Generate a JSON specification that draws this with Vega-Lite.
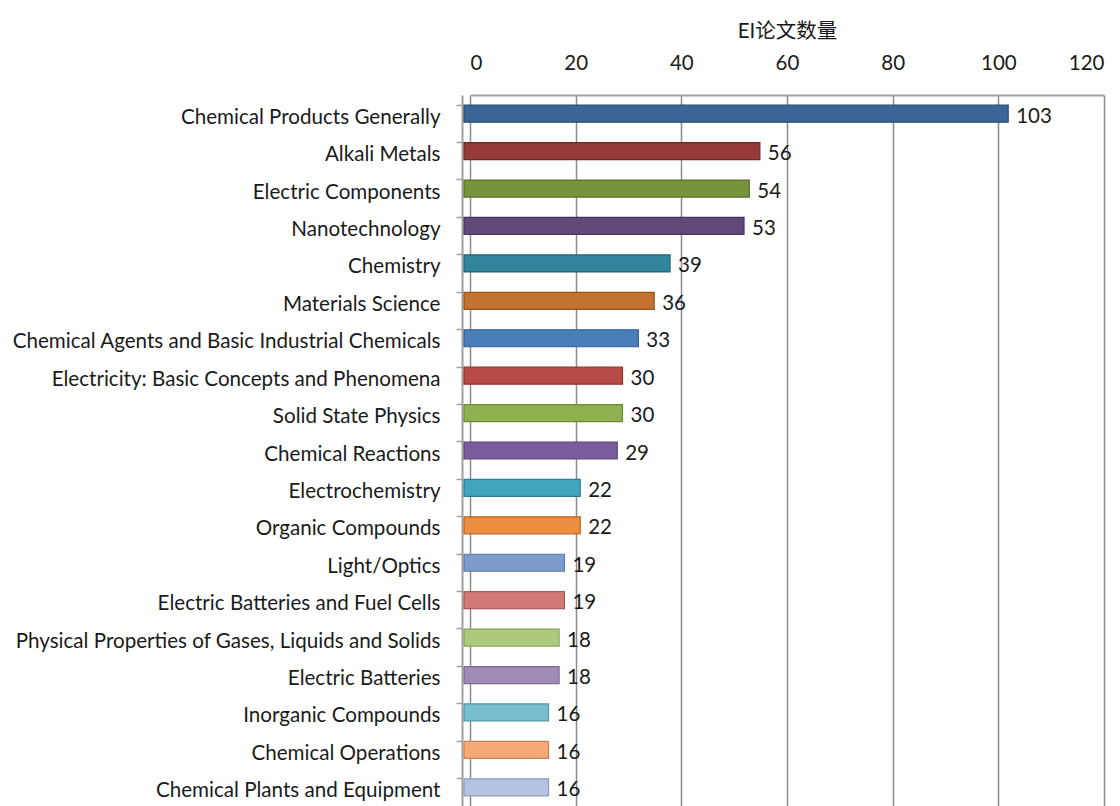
{
  "$schema": "https://vega.github.io/schema/vega-lite/v6.json",
  "width": 634,
  "height": 711,
  "autosize": {"type": "none"},
  "padding": {"left": 470, "top": 95, "right": 16, "bottom": 0},
  "background": "white",
  "config": {"view": {"stroke": null}, "font": "Lato"},
  "data": {"values": [
    {"cat": "Chemical Products Generally", "n": 103},
    {"cat": "Alkali Metals", "n": 56},
    {"cat": "Electric Components", "n": 54},
    {"cat": "Nanotechnology", "n": 53},
    {"cat": "Chemistry", "n": 39},
    {"cat": "Materials Science", "n": 36},
    {"cat": "Chemical Agents and Basic Industrial Chemicals", "n": 33},
    {"cat": "Electricity: Basic Concepts and Phenomena", "n": 30},
    {"cat": "Solid State Physics", "n": 30},
    {"cat": "Chemical Reactions", "n": 29},
    {"cat": "Electrochemistry", "n": 22},
    {"cat": "Organic Compounds", "n": 22},
    {"cat": "Light/Optics", "n": 19},
    {"cat": "Electric Batteries and Fuel Cells", "n": 19},
    {"cat": "Physical Properties of Gases, Liquids and Solids", "n": 18},
    {"cat": "Electric Batteries", "n": 18},
    {"cat": "Inorganic Compounds", "n": 16},
    {"cat": "Chemical Operations", "n": 16},
    {"cat": "Chemical Plants and Equipment", "n": 16}
  ]},
  "encoding": {
    "y": {
      "field": "cat", "type": "nominal", "sort": null,
      "scale": {"paddingInner": 0.54, "paddingOuter": 0.27},
      "axis": {
        "title": null, "offset": 8, "bandPosition": 0,
        "domainColor": "#a0a0a0", "domainWidth": 2,
        "tickColor": "#a0a0a0", "tickSize": 6, "tickWidth": 1.5,
        "labelPadding": 16, "labelFontSize": 20.6, "labelColor": "#1a1a1a",
        "labelFont": "Lato", "labelLimit": 500, "labelOffset": 4
      }
    },
    "x": {
      "field": "n", "type": "quantitative",
      "scale": {"domain": [0, 120], "nice": false},
      "axis": {
        "orient": "top", "values": [0, 20, 40, 60, 80, 100, 120],
        "title": "EI论文数量", "titleFont": "Lato, Noto Sans CJK SC",
        "titleFontSize": 20.5, "titleFontWeight": "normal", "titleColor": "#1a1a1a",
        "titlePadding": 12,
        "labelFontSize": 20.5, "labelColor": "#1a1a1a", "labelPadding": 22,
        "tickSize": 0, "domainColor": "#a0a0a0", "domainWidth": 2,
        "grid": true, "gridColor": "#8c8c8c", "gridWidth": 1.5
      }
    }
  },
  "layer": [
    {
      "mark": {"type": "bar", "height": 17, "xOffset": -6, "x2Offset": -6, "strokeWidth": 1.2},
      "encoding": {
        "color": {
          "field": "cat", "type": "nominal", "sort": null, "legend": null,
          "scale": {"range": ["#3C6496", "#953A38", "#77933C", "#614A7B", "#31849B", "#C3722F", "#4A7EBB", "#B84A47", "#8EB050", "#7B5C9B", "#43A4BE", "#EB8C3E", "#7D9CCC", "#D17A78", "#AEC87E", "#A08CB7", "#79BDD1", "#F7A877", "#B4C3E0"]}
        },
        "stroke": {
          "field": "cat", "type": "nominal", "sort": null, "legend": null,
          "scale": {"range": ["#2A4A70", "#6E2826", "#56702A", "#463560", "#1F6477", "#95541E", "#325F95", "#8E3431", "#6C8A37", "#5B4278", "#2D7F95", "#B8662A", "#5A7AAB", "#A85856", "#8AA55A", "#7E6B95", "#5697AB", "#C4805A", "#8C9CBE"]}
        }
      }
    },
    {
      "mark": {"type": "text", "align": "left", "baseline": "middle", "dx": 2, "dy": 3, "fontSize": 20.5, "font": "Lato", "color": "#1a1a1a"},
      "encoding": {"text": {"field": "n", "type": "quantitative"}}
    }
  ]
}
